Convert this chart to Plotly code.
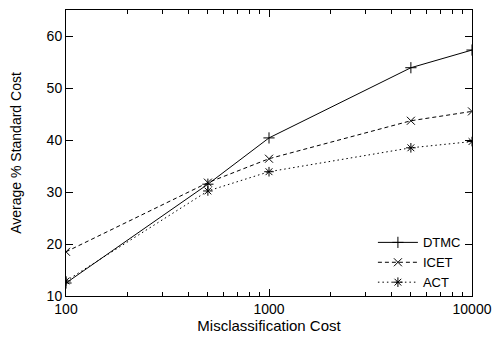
import plotly.graph_objects as go

costs = [100, 500, 1000, 5000, 10000]
dtmc = [12.5, 31.5, 40.4, 53.9, 57.3]
icet = [18.5, 31.8, 36.4, 43.7, 45.5]
act = [12.9, 30.2, 33.9, 38.5, 39.7]

series = [
    ("DTMC", dtmc, "solid", "cross-thin-open"),
    ("ICET", icet, "4px,3px", "x-thin-open"),
    ("ACT", act, "1.5px,3px", "asterisk-open"),
]

fig = go.Figure()
for name, vals, dash, sym in series:
    fig.add_trace(go.Scatter(
        x=costs, y=vals, name=name, mode="lines+markers",
        line=dict(color="black", width=1, dash=dash),
        marker=dict(symbol=sym, size=8, color="black", line=dict(width=1, color="black")),
    ))

fam = "Liberation Sans, Arial, sans-serif"
font = dict(family=fam, size=14, color="black")
fig.update_layout(
    width=495, height=339,
    margin=dict(l=66, r=23, t=10, b=43),
    plot_bgcolor="white", paper_bgcolor="white",
    font=font,
    showlegend=True,
    legend=dict(x=0.985, y=-0.005, xanchor="right", yanchor="bottom",
                bgcolor="rgba(0,0,0,0)", font=dict(family=fam, size=13, color="black"),
                itemwidth=40, tracegroupgap=0),
)
fig.update_xaxes(
    type="log", range=[2, 4], tickvals=[100, 1000, 10000], ticktext=["100", "1000", "10000"],
    ticks="inside", ticklen=7, tickcolor="black", mirror="allticks", automargin=False,
    showline=True, linecolor="black", linewidth=1, showgrid=False, zeroline=False,
    minor=dict(ticks="inside", ticklen=4, tickcolor="black",
               tickvals=[200, 300, 400, 500, 600, 700, 800, 900, 2000, 3000, 4000, 5000, 6000, 7000, 8000, 9000],
               showgrid=False),
    title=dict(text="Misclassification Cost", standoff=3, font=dict(family=fam, size=15, color="black")),
)
fig.update_yaxes(
    range=[10, 65], tickvals=[10, 20, 30, 40, 50, 60],
    ticks="inside", ticklen=7, tickcolor="black", mirror="allticks", automargin=False,
    showline=True, linecolor="black", linewidth=1, showgrid=False, zeroline=False,
    title=dict(text="Average % Standard Cost", standoff=21, font=dict(family=fam, size=14, color="black")),
)
fig.write_html("out.html", post_script="document.body.style.margin='0';",
               config={"displayModeBar": False})
